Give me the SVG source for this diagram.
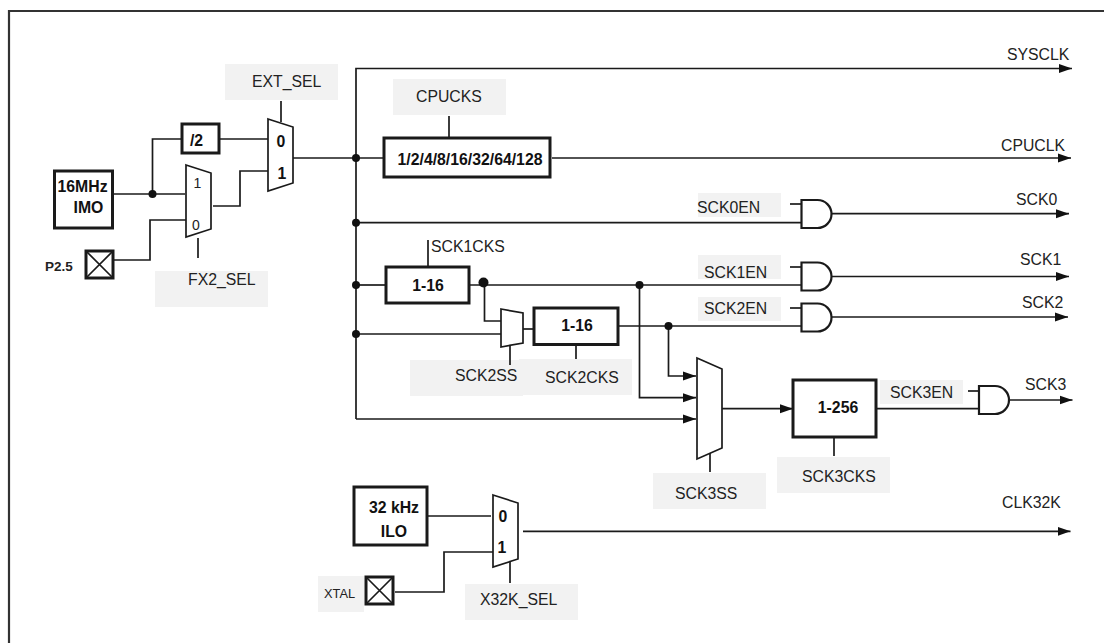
<svg xmlns="http://www.w3.org/2000/svg" width="1104" height="643" viewBox="0 0 1104 643">
<style>
text{font-family:"Liberation Sans",Arial,sans-serif;fill:#222}
.l{font-size:15.8px}
.b{font-size:15.8px;font-weight:700;fill:#111}
.s{font-size:12.8px}
.bg{fill:#f2f2f2;stroke:none}
.w{fill:none;stroke:#1a1a1a;stroke-width:1.7}
.box{fill:#fff;stroke:#1a1a1a;stroke-width:3}
.mux{fill:#fff;stroke:#1a1a1a;stroke-width:1.7}
.gate{fill:#fff;stroke:#1a1a1a;stroke-width:2.2}
.dot{fill:#111;stroke:none}
</style>
<defs>
<marker id="arrow" markerUnits="userSpaceOnUse" markerWidth="14" markerHeight="10" refX="13" refY="5" orient="auto"><path d="M0 .5L13 5L0 9.500z" fill="#111"/></marker>
</defs>
<rect width="1104" height="643" fill="#fff"/>
<path id="frame" d="M9 643V11H1104" fill="none" stroke="#333" stroke-width="2.200"/>
<g id="label-backgrounds">
<rect class="bg" x="225" y="64" width="113" height="36"/>
<rect class="bg" x="155" y="271" width="113" height="36"/>
<rect class="bg" x="393" y="79" width="113" height="36"/>
<rect class="bg" x="698" y="193" width="83" height="24"/>
<rect class="bg" x="698" y="255" width="83" height="24"/>
<rect class="bg" x="698" y="297" width="83" height="24"/>
<rect class="bg" x="880" y="380" width="83" height="24"/>
<rect class="bg" x="410" y="360" width="113" height="36"/>
<rect class="bg" x="519" y="359" width="113" height="36"/>
<rect class="bg" x="653" y="473" width="113" height="36"/>
<rect class="bg" x="777" y="457" width="113" height="36"/>
<rect class="bg" x="465" y="584" width="113" height="36"/>
<rect class="bg" x="318" y="576" width="46" height="36"/>
</g>
<g id="connectors">
<path class="w" d="M113 194H185"/>
<path class="w" d="M152.500 194V139H182"/>
<path class="w" d="M219 139H268"/>
<path class="w" d="M114 260H150V220H186"/>
<path class="w" d="M213 206H240V171H268"/>
<path class="w" d="M281 101V122"/>
<path class="w" d="M198 238V258"/>
<path class="w" d="M293 158H385"/>
<path class="w" d="M356 419V68.500H1072" marker-end="url(#arrow)"/>
<path class="w" d="M449 116V138"/>
<path class="w" d="M552 158H1071" marker-end="url(#arrow)"/>
<path class="w" d="M356 222.700H802"/>
<path class="w" d="M356 285H386"/>
<path class="w" d="M356 334H501"/>
<path class="w" d="M356 419H696" marker-end="url(#arrow)"/>
<path class="w" d="M428 240V267"/>
<path class="w" d="M469 285H802"/>
<path class="w" d="M484.500 283V321H501"/>
<path class="w" d="M523 329H534"/>
<path class="w" d="M618 326H802"/>
<path class="w" d="M510 346V365"/>
<path class="w" d="M576 345V359"/>
<path class="w" d="M668.500 326V376H696" marker-end="url(#arrow)"/>
<path class="w" d="M639.500 285V397.700H696" marker-end="url(#arrow)"/>
<path class="w" d="M722 408.700H793" marker-end="url(#arrow)"/>
<path class="w" d="M710 453V472"/>
<path class="w" d="M834 437V456"/>
<path class="w" d="M876 408.700H979"/>
<path class="w" d="M790 204H802"/>
<path class="w" d="M790 267H802"/>
<path class="w" d="M790 308H802"/>
<path class="w" d="M968 391H979"/>
<path class="w" d="M832 213.700H1069" marker-end="url(#arrow)"/>
<path class="w" d="M832 276.500H1069" marker-end="url(#arrow)"/>
<path class="w" d="M832 317H1068" marker-end="url(#arrow)"/>
<path class="w" d="M1009 400H1072.500" marker-end="url(#arrow)"/>
<path class="w" d="M428 516H491"/>
<path class="w" d="M395 592H444V552H494"/>
<path class="w" d="M510 562V583"/>
<path class="w" d="M523 531.300H1070.500" marker-end="url(#arrow)"/>
<circle class="dot" cx="152.500" cy="194" r="4"/>
<circle class="dot" cx="356" cy="158" r="4"/>
<circle class="dot" cx="356" cy="222.700" r="4"/>
<circle class="dot" cx="356" cy="285" r="4"/>
<circle class="dot" cx="356" cy="334" r="4"/>
<circle class="dot" cx="483.500" cy="282.500" r="5"/>
<circle class="dot" cx="639.500" cy="285" r="4"/>
<circle class="dot" cx="668.500" cy="326" r="4"/>
</g>
<g id="imo"><rect class="box" x="54.500" y="171" width="58" height="57"/><text class="b" x="57.500" y="192">16MHz</text><text class="b" x="73.500" y="213">IMO</text></g>
<g id="div2"><rect class="box" x="182" y="124" width="37" height="29"/><text class="b" x="196.500" y="146" text-anchor="middle">/2</text></g>
<g id="p25"><rect class="box" x="86" y="251" width="27" height="27" stroke-width="2.500"/><path class="w" d="M86 251L113 278M113 251L86 278"/><text x="45" y="271" font-size="13.500" font-weight="700">P2.5</text></g>
<g id="fx2-mux"><path class="mux" d="M186 165L211 173V229L186 237Z"/><text x="197.500" y="188" font-size="14" text-anchor="middle">1</text><text x="196" y="229.500" font-size="14" text-anchor="middle">0</text></g>
<g id="ext-mux"><path class="mux" d="M268 119L293 127V183L268 191Z"/><text class="b" x="281" y="147" text-anchor="middle">0</text><text class="b" x="282" y="179" text-anchor="middle">1</text></g>
<g id="ext-sel"><text class="l" x="252" y="87">EXT_SEL</text></g>
<g id="fx2-sel"><text class="l" x="188" y="285">FX2_SEL</text></g>
<g id="cpucks"><text class="l" x="416" y="102">CPUCKS</text></g>
<g id="cpu-div"><rect class="box" x="384" y="138" width="166" height="39"/><text class="b" x="470" y="165" text-anchor="middle">1/2/4/8/16/32/64/128</text></g>
<g id="sysclk"><text class="l" x="1007" y="60">SYSCLK</text></g>
<g id="cpuclk"><text class="l" x="1001" y="151">CPUCLK</text></g>
<g id="and0"><path class="gate" d="M801.500 200H817.500A14 14 0 0 1 817.500 228H801.500Z"/><text class="l" x="697" y="213">SCK0EN</text><text class="l" x="1016" y="205">SCK0</text></g>
<g id="and1"><path class="gate" d="M801.500 262.500H817.500A14 14 0 0 1 817.500 290.500H801.500Z"/><text class="l" x="704" y="278">SCK1EN</text><text class="l" x="1020" y="265">SCK1</text></g>
<g id="and2"><path class="gate" d="M801.500 303.500H817.500A14 14 0 0 1 817.500 331.500H801.500Z"/><text class="l" x="704" y="314">SCK2EN</text><text class="l" x="1022" y="308">SCK2</text></g>
<g id="and3"><path class="gate" d="M979 386H995A14 14 0 0 1 995 414H979Z"/><text class="l" x="890" y="398">SCK3EN</text><text class="l" x="1025" y="390">SCK3</text></g>
<g id="sck1-div"><rect class="box" x="386" y="267" width="83" height="36"/><text class="b" x="428" y="291" text-anchor="middle">1-16</text><text class="l" x="431" y="252">SCK1CKS</text></g>
<g id="sck2-mux"><path class="mux" d="M501 309L523 313V343L501 347Z"/><text class="l" x="455" y="381">SCK2SS</text></g>
<g id="sck2-div"><rect class="box" x="534" y="308" width="84" height="36.500"/><text class="b" x="577" y="331" text-anchor="middle">1-16</text><text class="l" x="545" y="383">SCK2CKS</text></g>
<g id="sck3-mux"><path class="mux" d="M697 358L722 369V448L697 459Z"/><text class="l" x="675" y="499">SCK3SS</text></g>
<g id="sck3-div"><rect class="box" x="793" y="380" width="83" height="57"/><text class="b" x="838" y="413" text-anchor="middle">1-256</text><text class="l" x="802" y="482">SCK3CKS</text></g>
<g id="ilo"><rect class="box" x="354" y="487" width="73" height="58"/><text class="b" x="394" y="513" text-anchor="middle">32 kHz</text><text class="b" x="394" y="537" text-anchor="middle">ILO</text></g>
<g id="x32k-mux"><path class="mux" d="M493 495L518 503V559L493 567Z"/><text class="b" x="503" y="522" text-anchor="middle">0</text><text class="b" x="502" y="553" text-anchor="middle">1</text><text class="l" x="480" y="605">X32K_SEL</text></g>
<g id="xtal"><rect class="box" x="366" y="577" width="27" height="27"/><path class="w" d="M366 577L393 604M393 577L366 604"/><text class="s" x="324" y="598">XTAL</text></g>
<g id="clk32k"><text class="l" x="1002" y="508">CLK32K</text></g>
</svg>
